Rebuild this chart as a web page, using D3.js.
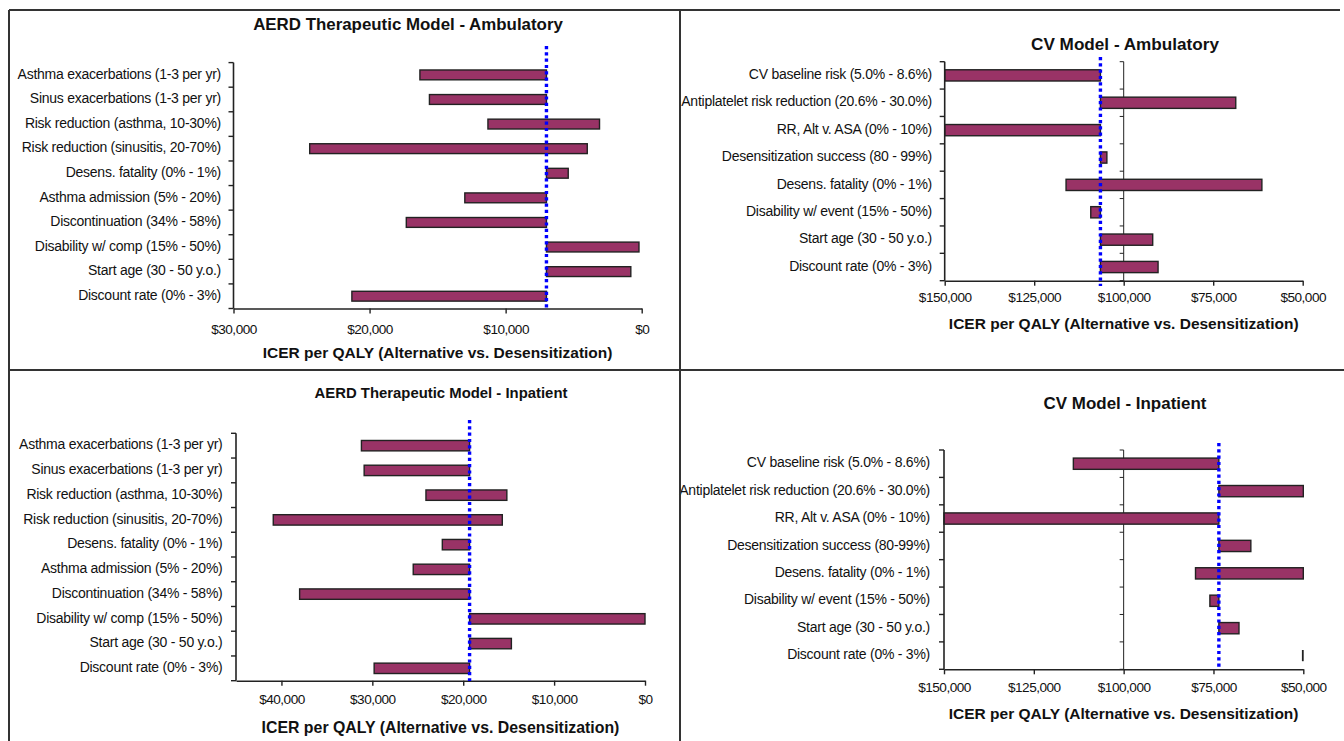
<!DOCTYPE html>
<html>
<head>
<meta charset="utf-8">
<script src="https://cdn.jsdelivr.net/npm/d3@7"></script>
<style>
  html, body { margin: 0; padding: 0; background: #fff; }
  svg { display: block; }
  text { font-family: "Liberation Sans", Arial, sans-serif; fill: #111; }
</style>
</head>
<body>
<svg id="chart" width="1344" height="741"></svg>
<script>
// ---------------- DATA ----------------
const aerdCategories = [
  "Asthma exacerbations (1-3 per yr)",
  "Sinus exacerbations (1-3 per yr)",
  "Risk reduction (asthma, 10-30%)",
  "Risk reduction (sinusitis, 20-70%)",
  "Desens. fatality (0% - 1%)",
  "Asthma admission (5% - 20%)",
  "Discontinuation (34% - 58%)",
  "Disability w/ comp (15% - 50%)",
  "Start age (30 - 50 y.o.)",
  "Discount rate (0% - 3%)"
];
const cvAmbCategories = [
  "CV baseline risk (5.0% - 8.6%)",
  "Antiplatelet risk reduction (20.6% - 30.0%)",
  "RR, Alt v. ASA (0% - 10%)",
  "Desensitization success (80 - 99%)",
  "Desens. fatality (0% - 1%)",
  "Disability w/ event (15% - 50%)",
  "Start age (30 - 50 y.o.)",
  "Discount rate (0% - 3%)"
];
const cvInpCategories = [
  "CV baseline risk (5.0% - 8.6%)",
  "Antiplatelet risk reduction (20.6% - 30.0%)",
  "RR, Alt v. ASA (0% - 10%)",
  "Desensitization success (80-99%)",
  "Desens. fatality (0% - 1%)",
  "Disability w/ event (15% - 50%)",
  "Start age (30 - 50 y.o.)",
  "Discount rate (0% - 3%)"
];

// AERD Therapeutic Model - Ambulatory (ICER per QALY, $)
const aerdAmbBase = 7000;
const aerdAmbFrom = [16300, 15600, 11300, 24400, 7000, 13000, 17300, 7000, 7000, 21300];
const aerdAmbTo   = [ 7000,  7000,  3100,  4000, 5400,  7000,  7000,  200,  800,  7000];
const aerdAmbTicks = [30000, 20000, 10000, 0];

// CV Model - Ambulatory
const cvAmbBase = 106500;
const cvAmbFrom = [150000, 106500, 150000, 106500, 116100, 109200, 106500, 106500];
const cvAmbTo   = [106500,  68700, 106500, 104700,  61400, 106500,  91900,  90400];
const cvTicks = [150000, 125000, 100000, 75000, 50000];

// AERD Therapeutic Model - Inpatient
const aerdInpBase = 19300;
const aerdInpFrom = [31200, 30900, 24100, 40900, 22300, 25500, 38000, 19300, 19300, 29800];
const aerdInpTo   = [19300, 19300, 15200, 15700, 19300, 19300, 19300,     0, 14700, 19300];
const aerdInpTicks = [40000, 30000, 20000, 10000, 0];

// CV Model - Inpatient
const cvInpBase = 73500;
const cvInpFrom = [114000, 73500, 150000, 73500, 80000, 76000, 73500, 50000];
const cvInpTo   = [ 73500, 50000,  73500, 64600, 50000, 73500, 67900, 50000];

// ---------------- DRAWING ----------------
const svg = d3.select("#chart");
const BAR_FILL = "#993366";
const BAR_STROKE = "#222";
const fmt = d3.format("$,.0f");

function fitText(sel, width) {
  const len = sel.node().getComputedTextLength();
  const fs = parseFloat(sel.attr("font-size"));
  sel.attr("font-size", (fs * width / len).toFixed(2));
}

function drawPanel(p) {
  const g = svg.append("g");
  const x = d3.scaleLinear().domain(p.domain).range([p.x0, p.x1]);
  const y = d3.scaleBand().domain(p.cats).range([p.y0, p.y1]).padding(0);
  const step = y.step();
  const barH = step * p.barFrac;

  // title
  const t = g.append("text").attr("x", p.titleX).attr("y", p.titleY)
    .attr("text-anchor", "middle").attr("font-weight", "bold")
    .attr("font-size", 15).attr("dominant-baseline", "middle").text(p.title);
  fitText(t, p.titleW);

  // grid line at value (CV panels) with ticks
  if (p.gridAt !== undefined) {
    const gx = x(p.gridAt);
    g.append("line").attr("x1", gx).attr("x2", gx).attr("y1", p.y0).attr("y2", p.y1)
      .attr("stroke", "#222").attr("stroke-width", 1);
    d3.range(p.cats.length + 1).forEach(i => {
      const yy = p.y0 + i * step;
      g.append("line").attr("x1", gx - 4).attr("x2", gx).attr("y1", yy).attr("y2", yy)
        .attr("stroke", "#222").attr("stroke-width", 1);
    });
  }

  // bars
  const idx = d3.range(p.cats.length);
  const wide = idx.filter(i => Math.abs(x(p.from[i]) - x(p.to[i])) >= 1);
  const thin = idx.filter(i => Math.abs(x(p.from[i]) - x(p.to[i])) < 1);
  g.selectAll("rect.bar").data(wide).enter().append("rect")
    .attr("class", "bar")
    .attr("x", i => Math.min(x(p.from[i]), x(p.to[i])))
    .attr("width", i => Math.abs(x(p.from[i]) - x(p.to[i])))
    .attr("y", i => y(p.cats[i]) + (step - barH) / 2)
    .attr("height", barH)
    .attr("fill", BAR_FILL).attr("stroke", BAR_STROKE).attr("stroke-width", 1.4);
  g.selectAll("line.thinbar").data(thin).enter().append("line")
    .attr("class", "thinbar")
    .attr("x1", i => x(p.from[i]) - 0.5).attr("x2", i => x(p.to[i]) - 0.5)
    .attr("y1", i => y(p.cats[i]) + (step - barH) / 2)
    .attr("y2", i => y(p.cats[i]) + (step + barH) / 2)
    .attr("stroke", BAR_STROKE).attr("stroke-width", 1.8);

  // y axis line + ticks at band boundaries
  g.append("line").attr("x1", p.x0).attr("x2", p.x0).attr("y1", p.y0).attr("y2", p.y1)
    .attr("stroke", "#222").attr("stroke-width", 1.6);
  d3.range(p.cats.length + 1).forEach(i => {
    const yy = p.y0 + i * step;
    g.append("line").attr("x1", p.x0 - 5).attr("x2", p.x0).attr("y1", yy).attr("y2", yy)
      .attr("stroke", "#222").attr("stroke-width", 1.4);
  });

  // category labels
  g.selectAll("text.cat").data(p.cats).enter().append("text")
    .attr("class", "cat")
    .attr("x", p.labelX)
    .attr("y", d => y(d) + step / 2)
    .attr("text-anchor", "end").attr("dominant-baseline", "middle")
    .attr("font-size", p.labelSize).attr("letter-spacing", p.labelLS)
    .text(d => d);

  // x axis
  const ax = g.append("g").attr("transform", `translate(0,${p.y1})`)
    .call(d3.axisBottom(x).tickValues(p.ticks).tickFormat(fmt).tickSize(5).tickSizeOuter(0));
  ax.select(".domain").attr("stroke", "#222").attr("stroke-width", 1.6);
  ax.selectAll(".tick line").attr("stroke", "#222").attr("stroke-width", 1.4);
  ax.selectAll(".tick text").attr("font-size", 13.6).attr("fill", "#111")
    .attr("font-family", "'Liberation Sans', Arial, sans-serif")
    .attr("letter-spacing", -0.5)
    .attr("dy", null).attr("y", p.tickLabelY - p.y1).attr("dominant-baseline", "middle");

  // axis title
  const at = g.append("text").attr("x", (p.x0 + p.x1) / 2).attr("y", p.axisTitleY)
    .attr("text-anchor", "middle").attr("font-weight", "bold")
    .attr("font-size", 14).attr("dominant-baseline", "middle")
    .text("ICER per QALY (Alternative vs. Desensitization)");
  fitText(at, p.axisTitleW);

  // baseline dotted line
  g.append("line").attr("x1", x(p.base)).attr("x2", x(p.base))
    .attr("y1", p.dotTop).attr("y2", p.dotBottom)
    .attr("stroke", "#0000ff").attr("stroke-width", 3.4)
    .attr("stroke-dasharray", "3.2,3.1");
}

drawPanel({
  title: "AERD Therapeutic Model - Ambulatory", titleX: 408, titleY: 26, titleW: 310,
  cats: aerdCategories, from: aerdAmbFrom, to: aerdAmbTo, base: aerdAmbBase,
  domain: [30000, 0], ticks: aerdAmbTicks,
  x0: 233.5, x1: 641.7, y0: 62.6, y1: 308.5, barFrac: 0.4,
  labelX: 221, labelSize: 14, labelLS: -0.25,
  tickLabelY: 330, axisTitleY: 354, axisTitleW: 350,
  dotTop: 46, dotBottom: 309
});

drawPanel({
  title: "CV Model - Ambulatory", titleX: 1125, titleY: 45, titleW: 188,
  cats: cvAmbCategories, from: cvAmbFrom, to: cvAmbTo, base: cvAmbBase,
  domain: [150000, 50000], ticks: cvTicks, gridAt: 100000,
  x0: 944.7, x1: 1302.7, y0: 61.7, y1: 280.7, barFrac: 0.41,
  labelX: 932, labelSize: 14, labelLS: -0.25,
  tickLabelY: 298, axisTitleY: 325, axisTitleW: 350,
  dotTop: 57, dotBottom: 286
});

drawPanel({
  title: "AERD Therapeutic Model - Inpatient", titleX: 441, titleY: 394, titleW: 253,
  cats: aerdCategories, from: aerdInpFrom, to: aerdInpTo, base: aerdInpBase,
  domain: [45000, 0], ticks: aerdInpTicks,
  x0: 236, x1: 645, y0: 433.3, y1: 680.7, barFrac: 0.42,
  labelX: 222.5, labelSize: 14, labelLS: -0.25,
  tickLabelY: 700, axisTitleY: 729, axisTitleW: 358,
  dotTop: 420, dotBottom: 681
});

drawPanel({
  title: "CV Model - Inpatient", titleX: 1125, titleY: 405, titleW: 163,
  cats: cvInpCategories, from: cvInpFrom, to: cvInpTo, base: cvInpBase,
  domain: [150000, 50000], ticks: cvTicks, gridAt: 100000,
  x0: 944, x1: 1303.3, y0: 450, y1: 669.3, barFrac: 0.41,
  labelX: 930, labelSize: 14, labelLS: -0.25,
  tickLabelY: 688, axisTitleY: 715, axisTitleW: 350,
  dotTop: 443, dotBottom: 668
});

// panel frame lines
const frame = svg.append("g").attr("stroke", "#333").attr("stroke-width", 2);
frame.append("line").attr("x1", 9).attr("x2", 1340).attr("y1", 10).attr("y2", 10);
frame.append("line").attr("x1", 9).attr("x2", 9).attr("y1", 10).attr("y2", 741);
frame.append("line").attr("x1", 680).attr("x2", 680).attr("y1", 10).attr("y2", 741);
frame.append("line").attr("x1", 9).attr("x2", 1344).attr("y1", 370).attr("y2", 370);
</script>
</body>
</html>
